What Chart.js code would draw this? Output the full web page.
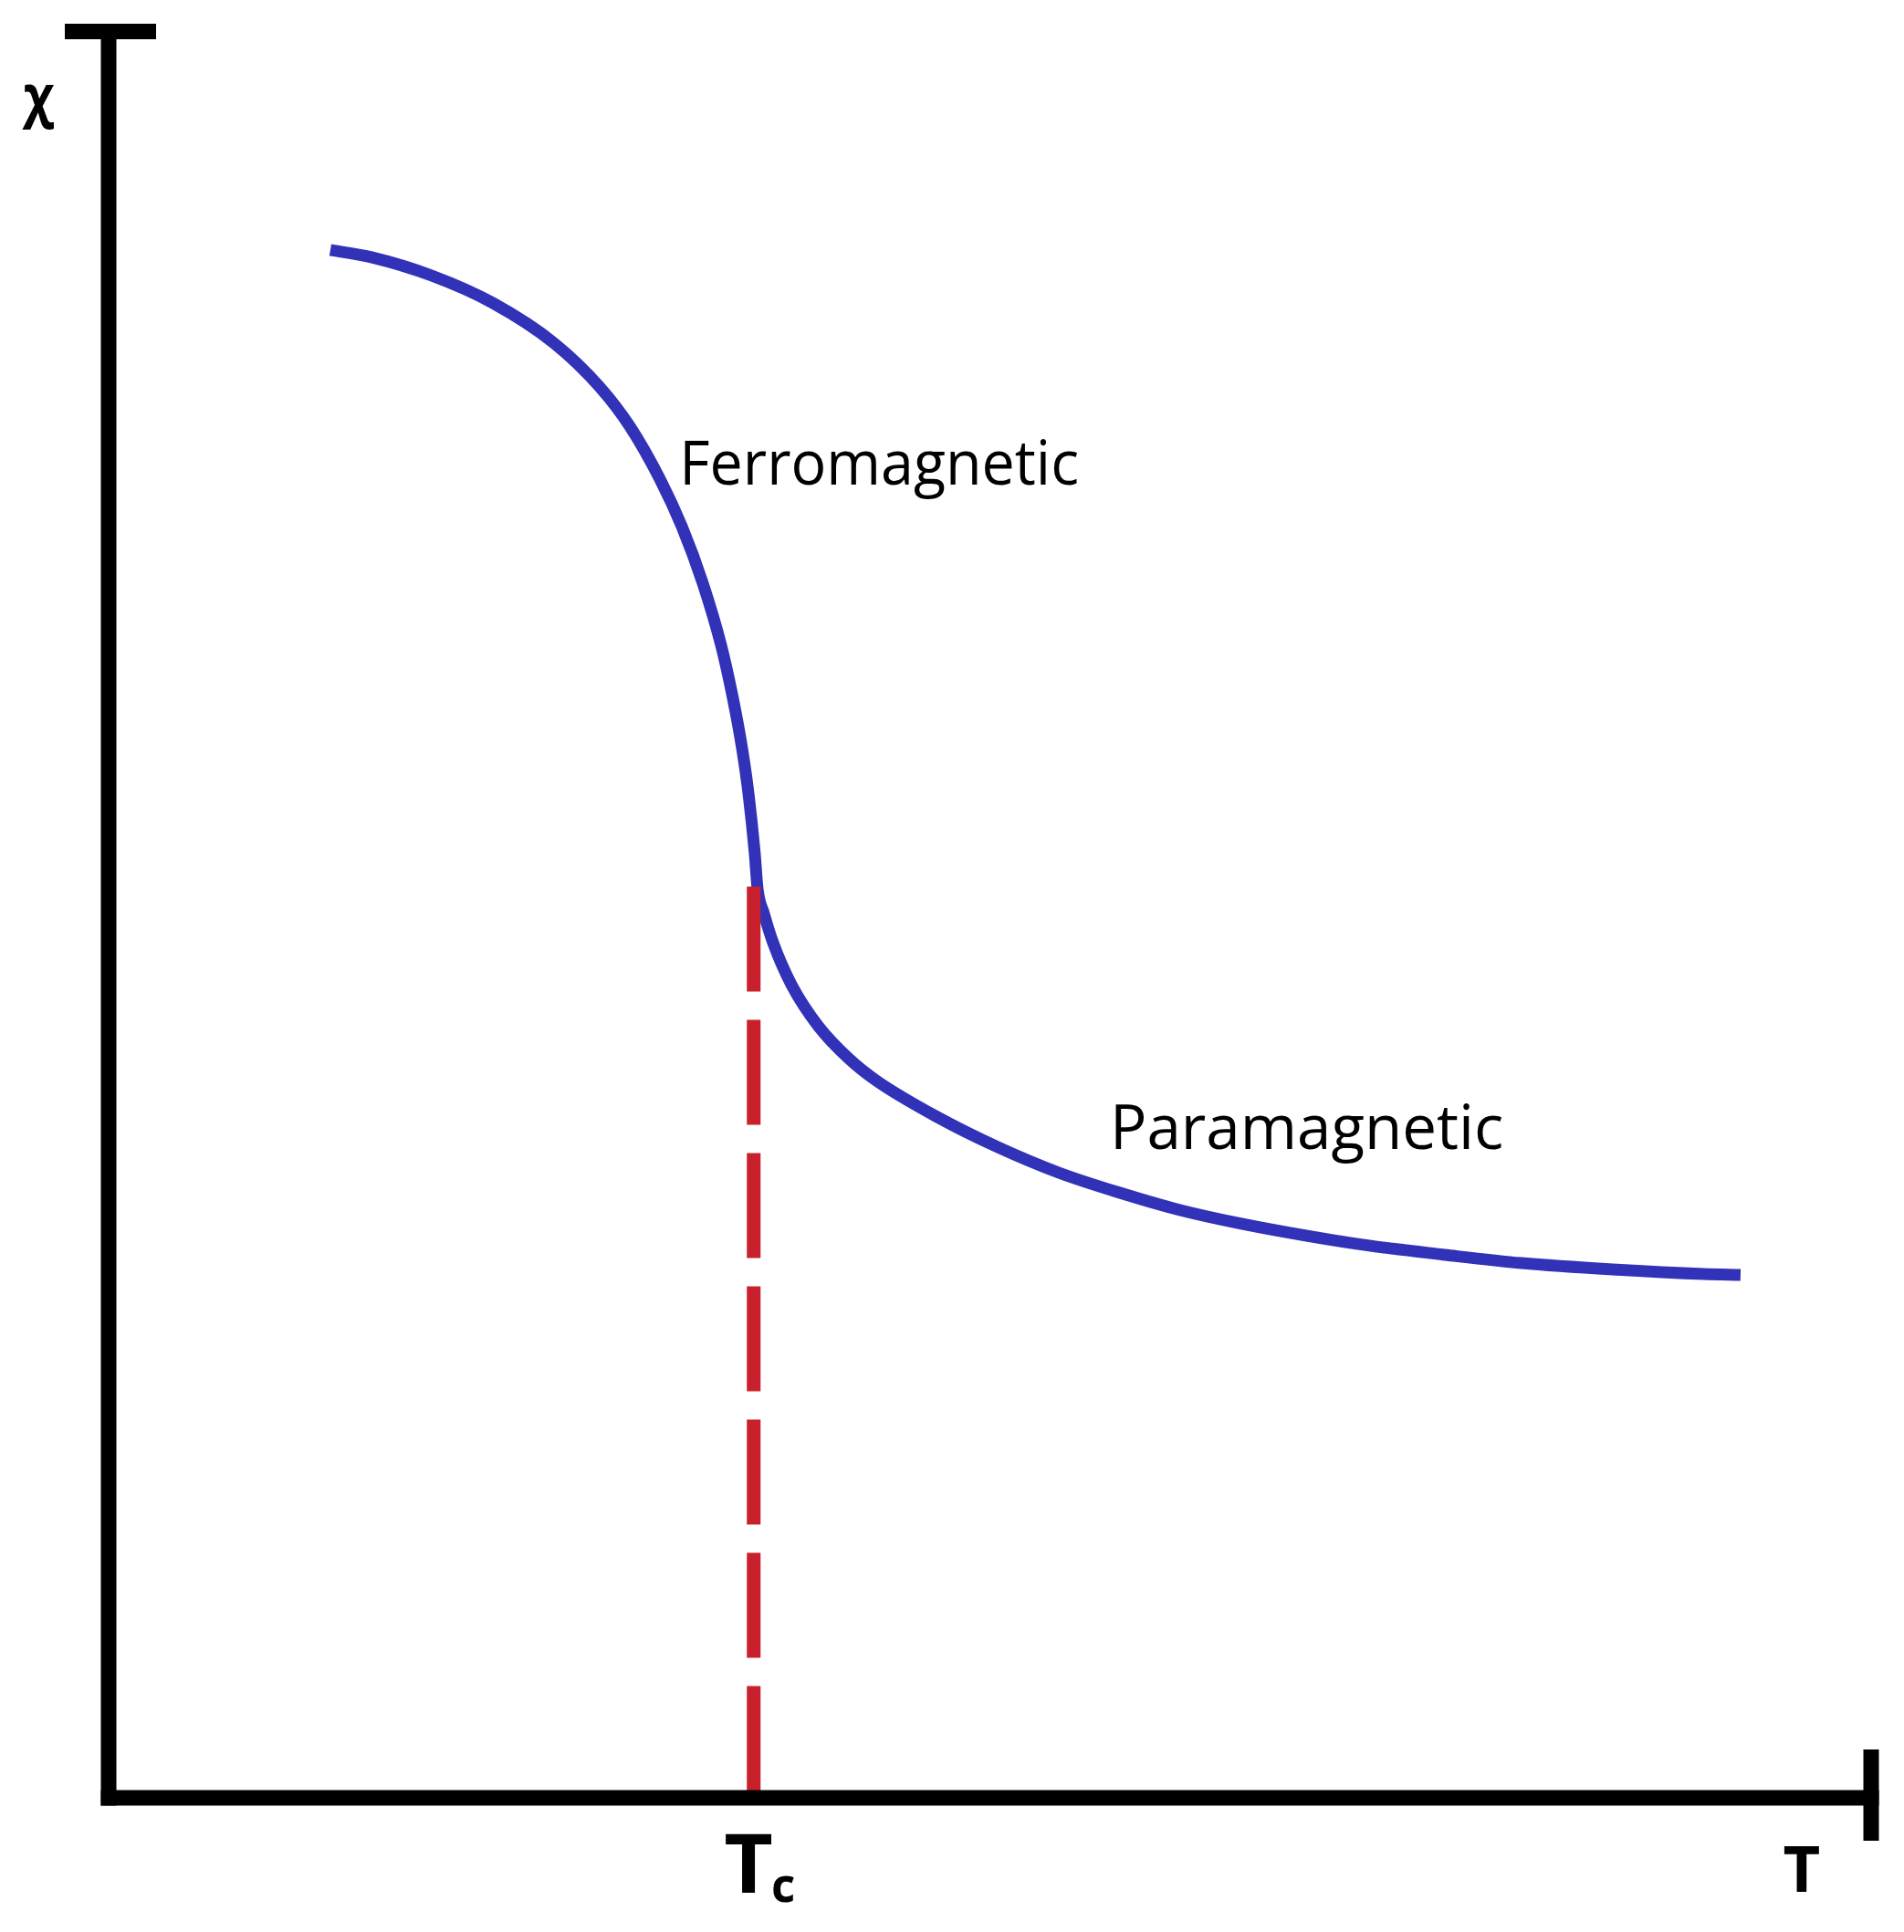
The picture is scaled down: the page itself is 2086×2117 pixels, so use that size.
<!DOCTYPE html>
<html lang="en">

<head>
    <meta charset="UTF-8">
    <title>Susceptibility vs temperature</title>
    <script src="https://cdn.jsdelivr.net/npm/chart.js"></script>
    <style>
        body {
            margin: 0;
            background: #fff;
        }

        .chartbox {
            width: 2086px;
            height: 2117px;
        }
    </style>
</head>

<body>
    <div class="chartbox">
        <canvas id="chiChart"></canvas>
    </div>

    <script>
        // curve (T and chi in arbitrary units, 0..100)
        const temperature = [12.58, 14.91, 18.33, 21.80, 25.27, 27.86, 29.57, 31.28, 32.52, 33.71, 34.75, 35.42,
            35.94, 36.30, 36.66, 36.82, 37.18, 37.70, 38.74, 40.29, 42.00, 43.55, 47.02, 50.44, 53.91, 57.38,
            60.80, 64.27, 69.45, 71.52, 75.82, 80.17, 85.34, 90.52, 92.59];
        const susceptibility = [87.65, 87.24, 86.20, 84.65, 82.38, 79.90, 77.67, 74.68, 72.00, 68.79, 65.27, 62.27,
            59.43, 56.90, 53.49, 51.47, 50.08, 48.42, 46.05, 43.67, 41.86, 40.62, 38.55, 36.85, 35.40, 34.26,
            33.28, 32.51, 31.58, 31.27, 30.75, 30.28, 29.92, 29.66, 29.61];

        // Curie temperature marker
        const curieT = [36.6, 36.6];
        const curieChi = [51.6, 0];

        const toPoints = (xs, ys) => xs.map((x, i) => ({ x: x, y: ys[i] }));

        // draw text so that its ink fills a given box
        function fitInk(ctx, text, weight, family, l, t, r, b) {
            ctx.font = weight + ' 100px ' + family;
            const m = ctx.measureText(text);
            const inkW = m.actualBoundingBoxLeft + m.actualBoundingBoxRight;
            const inkH = m.actualBoundingBoxAscent + m.actualBoundingBoxDescent;
            const size = 100 * (b - t) / inkH;
            const sx = (r - l) / (inkW * size / 100);
            ctx.save();
            ctx.translate(l, t);
            ctx.scale(sx, 1);
            ctx.font = weight + ' ' + size + 'px ' + family;
            ctx.textBaseline = 'alphabetic';
            ctx.textAlign = 'left';
            ctx.fillText(text, m.actualBoundingBoxLeft * size / 100, m.actualBoundingBoxAscent * size / 100);
            ctx.restore();
        }

        // word label: cap height between top and baseline, ink width between l and r
        function fitWord(ctx, text, weight, family, l, r, capTop, baseline) {
            ctx.font = weight + ' 100px ' + family;
            const cap = ctx.measureText('H').actualBoundingBoxAscent;
            const size = 100 * (baseline - capTop) / cap;
            ctx.font = weight + ' ' + size + 'px ' + family;
            const m = ctx.measureText(text);
            const inkW = m.actualBoundingBoxLeft + m.actualBoundingBoxRight;
            const sx = (r - l) / inkW;
            ctx.save();
            ctx.translate(l, baseline);
            ctx.scale(sx, 1);
            ctx.textBaseline = 'alphabetic';
            ctx.textAlign = 'left';
            ctx.fillText(text, m.actualBoundingBoxLeft, 0);
            ctx.restore();
        }

        const axesPlugin = {
            id: 'axesPlugin',
            afterDatasetsDraw(chart) {
                const ctx = chart.ctx;
                const xs = chart.scales.x;
                const ys = chart.scales.y;
                const x0 = xs.getPixelForValue(0);
                const x1 = xs.getPixelForValue(100);
                const y0 = ys.getPixelForValue(0);
                const y1 = ys.getPixelForValue(100);
                const w = 17;
                ctx.save();
                ctx.fillStyle = '#000';
                // y axis and its top cap
                ctx.fillRect(x0 - w / 2, y1 - 9, w, y0 + w / 2 - (y1 - 9));
                ctx.fillRect(x0 - 48, y1 - 9, 100, w);
                // x axis and its end cap
                ctx.fillRect(x0 - w / 2, y0 - w / 2, x1 + w / 2 - (x0 - w / 2), w);
                ctx.fillRect(x1 - w / 2, y0 - 53, w, 100);

                const fam = '"Open Sans", sans-serif';
                fitInk(ctx, 'χ', 'bold', fam, 24, 92, 59, 142);
                fitInk(ctx, 'T', 'bold', fam, 1955, 2023, 1993, 2073);
                fitInk(ctx, 'T', 'bold', fam, 795, 2009, 845, 2074);
                fitInk(ctx, 'c', 'bold', fam, 847, 2055, 870, 2085);
                fitWord(ctx, 'Ferromagnetic', 'normal', fam, 750, 1180, 482, 531);
                fitWord(ctx, 'Paramagnetic', 'normal', fam, 1222, 1645, 1210, 1259);
                ctx.restore();
            }
        };

        const chart = new Chart(document.getElementById('chiChart'), {
            type: 'line',
            data: {
                datasets: [{
                    label: 'Tc',
                    data: toPoints(curieT, curieChi),
                    borderColor: '#c8202c',
                    borderWidth: 15,
                    borderDash: [115, 31],
                    pointRadius: 0,
                    fill: false,
                }, {
                    label: 'chi',
                    data: toPoints(temperature, susceptibility),
                    borderColor: '#3232b8',
                    borderWidth: 13,
                    cubicInterpolationMode: 'monotone',
                    pointRadius: 0,
                    fill: false,
                }],
            },
            options: {
                responsive: true,
                maintainAspectRatio: false,
                devicePixelRatio: 1,
                animation: false,
                layout: {
                    padding: { left: 119, right: 36, top: 35, bottom: 147 },
                },
                plugins: {
                    legend: { display: false },
                    tooltip: { enabled: false },
                },
                scales: {
                    x: { type: 'linear', min: 0, max: 100, display: false },
                    y: { type: 'linear', min: 0, max: 100, display: false },
                },
            },
            plugins: [axesPlugin],
        });
    </script>
</body>

</html>
